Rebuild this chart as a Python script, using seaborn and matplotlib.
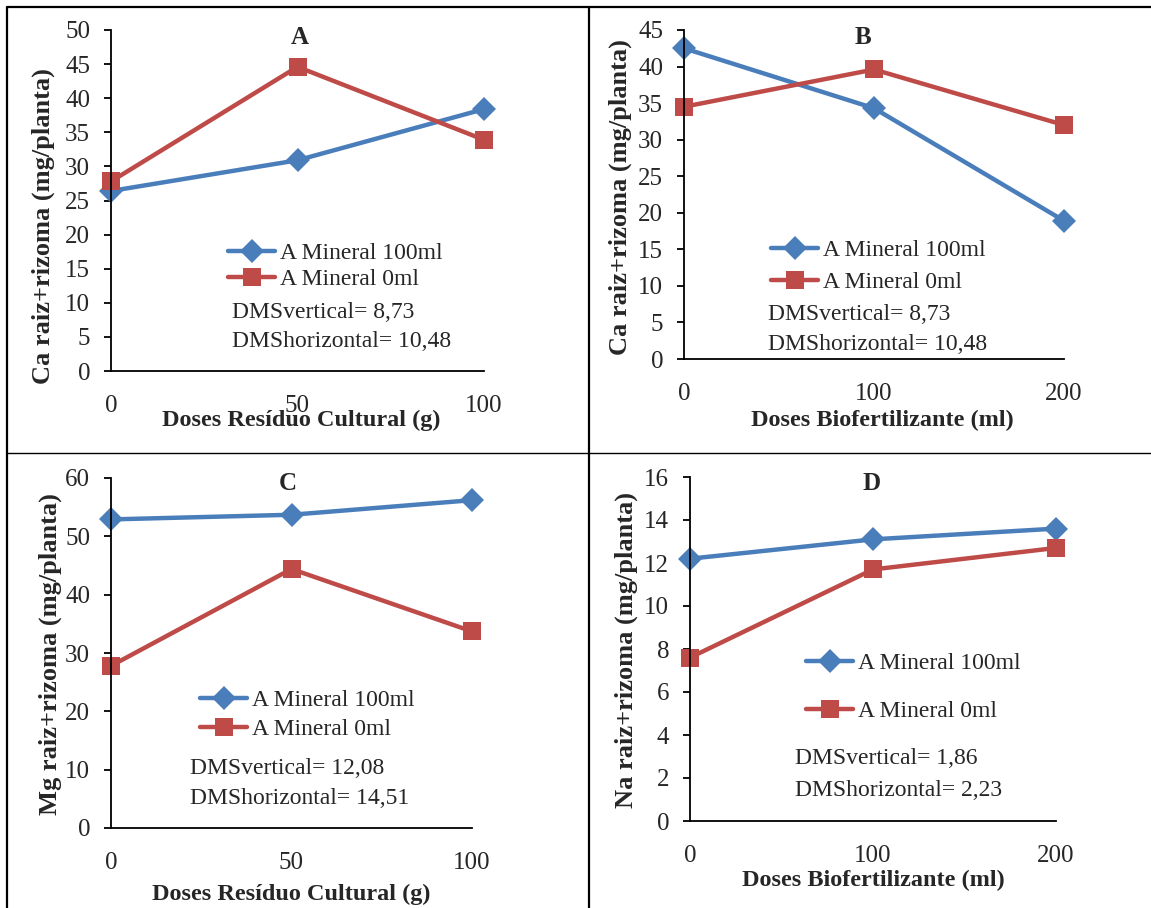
import matplotlib
matplotlib.use("Agg")
import matplotlib.pyplot as plt
import seaborn as sns
import pandas as pd
from matplotlib.lines import Line2D

# dados
doses_residuo = [0, 50, 100]
doses_bio = [0, 100, 200]

ca_res_100 = [26.4, 30.9, 38.4]
ca_res_0 = [27.8, 44.6, 33.9]
ca_bio_100 = [42.5, 34.3, 18.9]
ca_bio_0 = [34.5, 39.6, 32.0]
mg_res_100 = [52.9, 53.7, 56.2]
mg_res_0 = [27.8, 44.4, 33.7]
na_bio_100 = [12.2, 13.1, 13.6]
na_bio_0 = [7.6, 11.7, 12.7]

serie_100 = "A Mineral 100ml"
serie_0 = "A Mineral 0ml"
lab_res = "Doses Resíduo Cultural (g)"
lab_bio = "Doses Biofertilizante (ml)"
lab_ca = "Ca raiz+rizoma (mg/planta)"
lab_mg = "Mg raiz+rizoma (mg/planta)"
lab_na = "Na raiz+rizoma (mg/planta)"
dms_a = ["DMSvertical= 8,73", "DMShorizontal= 10,48"]
dms_b = ["DMSvertical= 8,73", "DMShorizontal= 10,48"]
dms_c = ["DMSvertical= 12,08", "DMShorizontal= 14,51"]
dms_d = ["DMSvertical= 1,86", "DMShorizontal= 2,23"]

sns.set_style("white")
plt.rcParams["font.family"] = ["Liberation Serif", "DejaVu Serif"]

W, H = 1151, 908
fig = plt.figure(figsize=(W / 100, H / 100), dpi=100)
azul = "#4A7EBB"
verm = "#BE4B48"
fs_tick = 18
fs_leg = 17
fs_xlab = 17.5
fs_ylab = 19


def fx(x):
    return x / W


def fy(y):
    return 1 - y / H


def painel(l, r, t, b, x, y100, y0, ymax, ystep, xlab, ylab, letra, tpos,
           ylc, xlc, leg_xy, lsp, dms, dms_pos):
    ax = fig.add_axes([fx(l), fy(b), (r - l) / W, (b - t) / H])
    df = pd.DataFrame({"x": x * 2, "y": y100 + y0,
                       "s": [serie_100] * 3 + [serie_0] * 3})
    sns.lineplot(data=df[df.s == serie_100], x="x", y="y", ax=ax, color=azul,
                 marker="D", markersize=12.5, linewidth=3.2, clip_on=False,
                 markeredgewidth=0, label=serie_100)
    sns.lineplot(data=df[df.s == serie_0], x="x", y="y", ax=ax, color=verm,
                 marker="s", markersize=13, linewidth=3.2, clip_on=False,
                 markeredgewidth=0, label=serie_0)
    ax.set_xlim(x[0], x[-1])
    ax.set_ylim(0, ymax)
    ax.set_xticks(x)
    ax.set_yticks(range(0, ymax + 1, ystep))
    for s in ["top", "right"]:
        ax.spines[s].set_visible(False)
    for s in ["left", "bottom"]:
        ax.spines[s].set_color("black")
        ax.spines[s].set_linewidth(1.3)
    ax.tick_params(axis="y", direction="out", length=5, width=1.3,
                   color="black", pad=10, labelsize=fs_tick, left=True)
    ax.tick_params(axis="x", length=0, pad=17, labelsize=fs_tick)
    ax.set_xlabel(xlab, fontsize=fs_xlab, fontweight="bold")
    ax.set_ylabel(ylab, fontsize=fs_ylab, fontweight="bold")
    ax.xaxis.label.set_va("center")
    ax.yaxis.label.set_va("center")
    ax.xaxis.set_label_coords(*xlc)
    ax.yaxis.set_label_coords(*ylc)
    ax.legend(loc="center left", bbox_to_anchor=(fx(leg_xy[0]), fy(leg_xy[1])),
              bbox_transform=fig.transFigure, frameon=False, borderpad=0,
              borderaxespad=0, handlelength=2.0, handletextpad=0.2,
              labelspacing=lsp, fontsize=fs_leg)
    fig.text(fx(tpos[0]), fy(tpos[1]), letra, fontsize=fs_tick,
             fontweight="bold", ha="center", va="center")
    fig.text(fx(dms_pos[0]), fy(dms_pos[1]), dms[0], fontsize=fs_leg,
             ha="left", va="center")
    fig.text(fx(dms_pos[0]), fy(dms_pos[2]), dms[1], fontsize=fs_leg,
             ha="left", va="center")
    return ax


painel(111, 484, 30, 371, doses_residuo, ca_res_100, ca_res_0, 50, 5,
       lab_res, lab_ca, "A", (300, 37), (-0.182, 0.425), (0.51, -0.144),
       (228, 266.5), 0.2, dms_a, (232, 312, 342))
painel(684, 1064, 30, 359, doses_bio, ca_bio_100, ca_bio_0, 45, 5,
       lab_bio, lab_ca, "B", (863, 37), (-0.168, 0.491), (0.521, -0.187),
       (771, 266.5), 0.45, dms_b, (768, 315, 345))
painel(111, 472, 478, 828, doses_residuo, mg_res_100, mg_res_0, 60, 10,
       lab_res, lab_mg, "C", (288, 483), (-0.169, 0.497), (0.5, -0.19),
       (200, 715), 0.33, dms_c, (190, 768, 798))
painel(690, 1056, 477, 821, doses_bio, na_bio_100, na_bio_0, 16, 2,
       lab_bio, lab_na, "D", (872, 483), (-0.173, 0.497), (0.5, -0.173),
       (806, 687.4), 1.1, dms_d, (795, 759, 790))

# linhas da tabela
for (x0, y0, x1, y1, lw) in [(7, 7, W, 7, 1.6), (7.5, 7, 7.5, H, 1.6),
                             (589, 7, 589, H, 1.6), (7, 453, W, 453, 1.0)]:
    fig.add_artist(Line2D([fx(x0), fx(x1)], [fy(y0), fy(y1)],
                          transform=fig.transFigure, color="black", lw=lw))

fig.savefig("out.png", dpi=100)
